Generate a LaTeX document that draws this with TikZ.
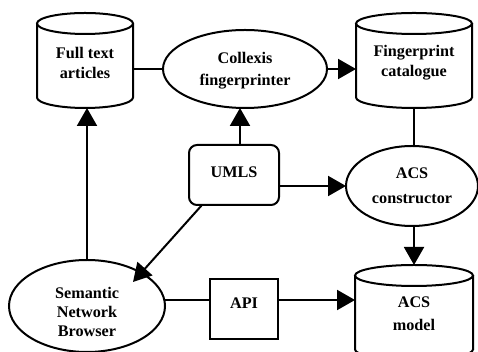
\documentclass[tikz,border=0pt]{standalone}
\usepackage{fontspec}
\setmainfont{Liberation Serif}
\usetikzlibrary{arrows.meta,shapes.geometric}
\tikzset{
  ln/.style={line width=2pt},
  arr/.style={ln, -{Triangle[length=18pt,width=20pt]}},
  txt/.style={font=\fontsize{16.2}{20}\selectfont\bfseries, align=center, inner sep=0pt},
  cylbox/.style={rectangle, inner sep=0pt, outer sep=0pt},
  ell/.style={ellipse, draw, ln, inner sep=0pt, outer sep=0pt},
  rbox/.style={rectangle, draw, ln, inner sep=0pt, outer sep=0pt},
}
\newcommand{\cylo}[3]{%
  \draw[ln] ([yshift=-#3]#1.north west) -- ([yshift=#3]#1.south west)
    arc[start angle=180, end angle=360, x radius=#2, y radius=#3]
    -- ([yshift=-#3]#1.north east);
  \draw[ln] ([yshift=-#3]#1.north) ellipse[x radius=#2, y radius=#3];
}
\begin{document}
\begin{tikzpicture}[x=1pt,y=1pt]
\useasboundingbox (0,0) rectangle (478,352);
\fill[white] (0,0) rectangle (478,352);
\clip (0,0) rectangle (478,352);

% cylinders
\node[cylbox, minimum width=96pt, minimum height=95pt] (ft) at (85,291.5) {};
\cylo{ft}{48pt}{10.5pt}
\node[txt] (ftt) at (85,289) {Full text\\articles};

\node[cylbox, minimum width=116pt, minimum height=95pt] (fp) at (414,291.5) {};
\cylo{fp}{58pt}{10.5pt}
\node[txt] (fpt) at (414,289) {Fingerprint\\catalogue};

\node[cylbox, minimum width=118pt, minimum height=95pt] (am) at (414,39.5) {};
\cylo{am}{59pt}{10.5pt}
\node[txt, font=\fontsize{16.2}{23}\selectfont\bfseries] (amt) at (414,38.5) {ACS\\model};

% ellipses
\node[ell, minimum width=164pt, minimum height=78pt] (cx) at (245,283) {};
\node[txt, font=\fontsize{16.2}{22}\selectfont\bfseries] (cxt) at (245,281) {Collexis\\fingerprinter};

\node[ell, minimum width=132pt, minimum height=80pt] (acs) at (412,166) {};
\node[txt, font=\fontsize{16.2}{25}\selectfont\bfseries] (acst) at (412,166.5) {ACS\\constructor};

\node[ell, minimum width=156pt, minimum height=92pt] (sem) at (87,46) {};
\node[txt, font=\fontsize{16.2}{19}\selectfont\bfseries] (semt) at (87,40) {Semantic\\Network\\Browser};

% boxes
\node[rbox, rounded corners=8pt, minimum width=90pt, minimum height=60pt] (umls) at (234,177) {};
\node[txt] (umlst) at (234,180) {UMLS};

\node[rbox, minimum width=68pt, minimum height=60pt] (api) at (244,43) {};
\node[txt] (apit) at (244,49) {API};

% connectors
\draw[ln] (cx.west) -- (cx.west -| ft.east);
\draw[arr] (cx.east) -- (cx.east -| fp.west);
\draw[ln] (fp.south) -- (fp.south |- acs.north);
\draw[arr] ([xshift=2pt]acs.south) -- ([xshift=2pt]acs.south |- am.north);
\draw[arr] ([xshift=6pt]umls.north) -- ([xshift=6pt]umls.north |- cx.south);
\draw[arr] (umls.east |- acs.west) -- (acs.west);
\coordinate (semtip) at ([shift={(46pt,24pt)}]sem.center);
\draw[arr] ([xshift=13pt]umls.south west) -- (semtip);
\draw[arr] (sem.north) -- (sem.north |- ft.south);
\draw[ln] ([yshift=9pt]api.west) -- ([yshift=9pt]api.west -| sem.east);
\draw[arr] ([yshift=9pt]api.east) -- ([yshift=9pt]api.east -| am.west);
\end{tikzpicture}
\end{document}
